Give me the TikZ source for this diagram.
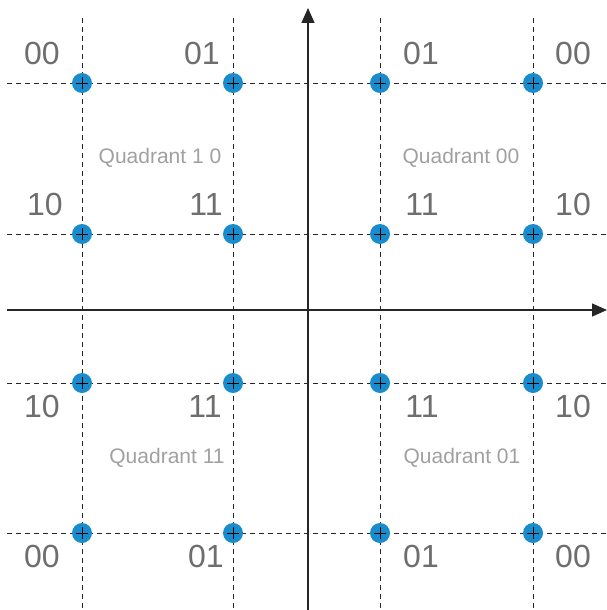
\documentclass[tikz,border=0pt]{standalone}
\usepackage{fontspec}
\setmainfont{Liberation Sans}
\usetikzlibrary{arrows.meta}
\definecolor{dotblue}{RGB}{25,140,205}
\definecolor{lblgray}{RGB}{110,110,110}
\definecolor{qgray}{RGB}{160,160,160}
\begin{document}
\begin{tikzpicture}[x=1pt,y=-1pt,
  gridline/.style={draw=black!85, line width=1pt, dash pattern=on 5pt off 4pt},
  axisline/.style={draw=black!85, line width=1.4pt, -{Triangle[length=15pt,width=13pt]}},
  dot/.style={circle, fill=dotblue, minimum size=20pt, inner sep=0pt},
  bits/.style={text=lblgray, font=\fontsize{32}{32}\selectfont, inner sep=0pt},
  quad/.style={text=qgray, font=\fontsize{21}{21}\selectfont, inner sep=0pt}]
\useasboundingbox (0,0) rectangle (607,610);
% grid coordinates
\foreach \i/\x in {1/82,2/233,3/380,4/533}{
  \coordinate (vt\i) at (\x,18);
  \coordinate (vb\i) at (\x,610);
}
\foreach \j/\y in {1/83,2/234,3/383,4/533}{
  \coordinate (hl\j) at (7,\y);
  \coordinate (hr\j) at (607,\y);
}
\foreach \i in {1,...,4}{
  \draw[gridline] (vt\i) -- (vb\i);
  \draw[gridline] (hl\i) -- (hr\i);
}
% axes
\coordinate (xa0) at (7,310);
\coordinate (xa1) at (607,310);
\coordinate (ya0) at (308,610);
\coordinate (ya1) at (308,8);
\draw[axisline] (xa0) -- (xa1);
\draw[axisline] (ya0) -- (ya1);
% dots
\foreach \i/\x in {1/82,2/233,3/380,4/533}{
  \foreach \j/\y in {1/83,2/234,3/383,4/533}{
    \node[dot] (d\i\j) at (\x,\y) {};
    \draw[black, line width=0.9pt] ([xshift=-6pt]d\i\j.center) -- ([xshift=6pt]d\i\j.center);
    \draw[black, line width=0.9pt] ([yshift=-6pt]d\i\j.center) -- ([yshift=6pt]d\i\j.center);
  }
}
% bit labels
\node[bits] (l11) at (42,53) {00};
\node[bits] (l21) at (202,53) {01};
\node[bits] (l31) at (421,53) {01};
\node[bits] (l41) at (573,53) {00};
\node[bits] (l12) at (45,204) {10};
\node[bits] (l22) at (206,204) {11};
\node[bits] (l32) at (422,204) {11};
\node[bits] (l42) at (573,204) {10};
\node[bits] (l13) at (42,406) {10};
\node[bits] (l23) at (205,406) {11};
\node[bits] (l33) at (422,406) {11};
\node[bits] (l43) at (573,406) {10};
\node[bits] (l14) at (42,556) {00};
\node[bits] (l24) at (206,556) {01};
\node[bits] (l34) at (421,556) {01};
\node[bits] (l44) at (573,556) {00};
% quadrant labels
\node[quad] (q10) at (160,158) {Quadrant 1 0};
\node[quad] (q00) at (461,158) {Quadrant 00};
\node[quad] (q11) at (167,458) {Quadrant 11};
\node[quad] (q01) at (462,458) {Quadrant 01};
\end{tikzpicture}
\end{document}
